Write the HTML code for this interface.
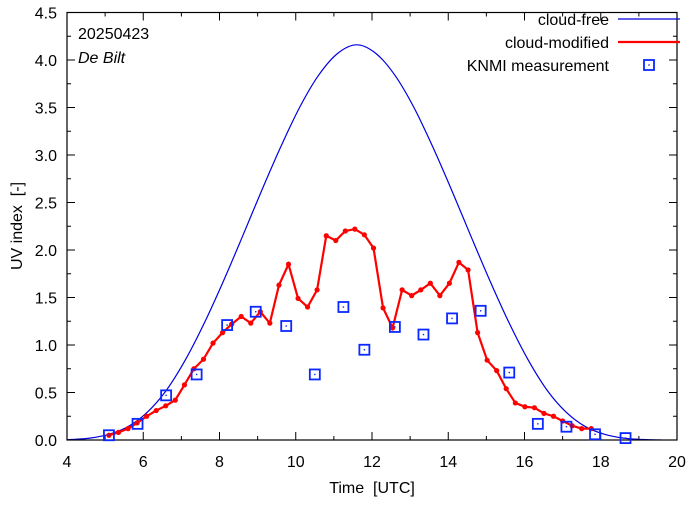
<!DOCTYPE html>
<html><head><meta charset="utf-8"><style>body{margin:0;background:#fff}svg text{font-family:"Liberation Sans",sans-serif;font-size:16px;fill:#000}.pre{white-space:pre}</style></head>
<body><svg id="c" width="694" height="501"></svg>
<script>
const redT=[5.10,5.35,5.60,5.84,6.09,6.34,6.59,6.84,7.08,7.33,7.58,7.83,8.08,8.32,8.57,8.82,9.07,9.32,9.56,9.81,10.06,10.31,10.56,10.80,11.05,11.30,11.55,11.80,12.04,12.29,12.54,12.79,13.04,13.28,13.53,13.78,14.03,14.28,14.52,14.77,15.02,15.27,15.52,15.76,16.01,16.26,16.51,16.76,17.00,17.25,17.50,17.75];
const redV=[0.05,0.08,0.12,0.18,0.25,0.31,0.36,0.42,0.58,0.75,0.85,1.02,1.13,1.22,1.30,1.23,1.35,1.23,1.63,1.85,1.49,1.40,1.58,2.15,2.10,2.20,2.22,2.16,2.02,1.39,1.18,1.58,1.52,1.58,1.65,1.52,1.65,1.87,1.79,1.13,0.84,0.73,0.54,0.39,0.35,0.34,0.28,0.25,0.20,0.15,0.12,0.12];
const measT=[5.1,5.85,6.6,7.4,8.2,8.95,9.75,10.5,11.25,11.8,12.6,13.35,14.1,14.85,15.6,16.35,17.1,17.85,18.65];
const measV=[0.05,0.17,0.47,0.69,1.21,1.35,1.20,0.69,1.40,0.95,1.19,1.11,1.28,1.36,0.71,0.17,0.14,0.06,0.02];
const clearT=[3.6,4.1,4.6,5.1,5.6,6.1,6.6,7.1,7.6,8.1,8.6,9.1,9.6,10.1,10.6,11.1,11.6,12.1,12.6,13.1,13.6,14.1,14.6,15.1,15.6,16.1,16.6,17.1,17.6,18.1,18.6,19.1,19.6];
const clearV=[0,0.005,0.02,0.06,0.14,0.29,0.52,0.84,1.23,1.67,2.14,2.62,3.08,3.50,3.84,4.07,4.16,4.07,3.84,3.50,3.08,2.62,2.14,1.67,1.23,0.84,0.52,0.29,0.14,0.06,0.02,0.005,0];
const xTicks=[4,6,8,10,12,14,16,18,20];
const yTicks=["0.0","0.5","1.0","1.5","2.0","2.5","3.0","3.5","4.0","4.5"];
const X0=67,X1=677,Y0=440,Y1=12.5;
const sx=t=>X0+(t-4)/16*(X1-X0), sy=v=>Y0-v/4.5*(Y0-Y1);
const svg=document.getElementById('c'),NS='http://www.w3.org/2000/svg';
function mk(tag,a,txt){const e=document.createElementNS(NS,tag);for(const k in a)e.setAttribute(k,a[k]);if(txt!==undefined)e.textContent=txt;svg.appendChild(e);return e;}
let e;
for(let t=4;t<=20;t+=1){const L=(t%2==0)?8:4;
e=mk('line',{x1:sx(t),x2:sx(t),y1:Y0,y2:Y0-L,stroke:'#000'});
e=mk('line',{x1:sx(t),x2:sx(t),y1:Y1,y2:Y1+L,stroke:'#000'});}
xTicks.forEach(t=>{e=mk('text',{x:sx(t),y:467,'text-anchor':'middle'},t);});
for(let i=0;i<=18;i++){const v=i*0.25,L=(i%2==0)?8:4;
e=mk('line',{x1:X0,x2:X0+L,y1:sy(v),y2:sy(v),stroke:'#000'});
e=mk('line',{x1:X1,x2:X1-L,y1:sy(v),y2:sy(v),stroke:'#000'});}
yTicks.forEach(s=>{e=mk('text',{x:57,y:sy(+s)+6,'text-anchor':'end'},s);});
e=mk('text',{x:372,y:493,'text-anchor':'middle','class':'pre'},'Time  [UTC]');
e=mk('text',{x:0,y:0,'text-anchor':'middle',transform:'translate(22,226) rotate(-90)','class':'pre'},'UV index  [-]');
e=mk('text',{x:78,y:39},'20250423');
e=mk('text',{x:78,y:63,'font-style':'italic'},'De Bilt');
e=mk('clipPath',{id:'clip'});const cr=document.createElementNS(NS,'rect');cr.setAttribute('x',X0);cr.setAttribute('y',Y1);cr.setAttribute('width',X1-X0);cr.setAttribute('height',Y0-Y1);e.appendChild(cr);
const P=clearT.map((t,i)=>[sx(t),sy(clearV[i])]);
let d='M'+P[0][0]+','+P[0][1];
for(let i=0;i<P.length-1;i++){const p0=P[Math.max(i-1,0)],p1=P[i],p2=P[i+1],p3=P[Math.min(i+2,P.length-1)];
d+=' C'+(p1[0]+(p2[0]-p0[0])/6)+','+(p1[1]+(p2[1]-p0[1])/6)+' '+(p2[0]-(p3[0]-p1[0])/6)+','+(p2[1]-(p3[1]-p1[1])/6)+' '+p2[0]+','+p2[1];}
e=mk('path',{d:d,fill:'none',stroke:'#0000e0','stroke-width':1.2,'clip-path':'url(#clip)'});
e=mk('rect',{x:X0,y:Y1,width:X1-X0,height:Y0-Y1,fill:'none',stroke:'#000','stroke-width':1.2});
e=mk('polyline',{points:redT.map((t,i)=>sx(t)+','+sy(redV[i])).join(' '),fill:'none',stroke:'#f00','stroke-width':2.2});
redT.forEach((t,i)=>{e=mk('circle',{cx:sx(t),cy:sy(redV[i]),r:2.6,fill:'#f00'});});
measT.forEach((t,i)=>{const x=sx(t),y=sy(measV[i]);
e=mk('rect',{x:x-5,y:y-5,width:10,height:10,fill:'none',stroke:'#0a28ff','stroke-width':1.8});
mk('rect',{x:x-0.7,y:y-0.7,width:1.4,height:1.4,fill:'#0a28ff'});});
e=mk('text',{x:609,y:25,'text-anchor':'end'},'cloud-free');
mk('line',{x1:618,x2:680,y1:19,y2:19,stroke:'#0000e0','stroke-width':1.2});
e=mk('text',{x:609,y:48,'text-anchor':'end'},'cloud-modified');
mk('line',{x1:618,x2:680,y1:42,y2:42,stroke:'#f00','stroke-width':2.2});
e=mk('text',{x:609,y:71,'text-anchor':'end'},'KNMI measurement');
mk('rect',{x:644,y:60,width:10,height:10,fill:'none',stroke:'#0a28ff','stroke-width':1.8});
mk('rect',{x:648.3,y:64.3,width:1.4,height:1.4,fill:'#0a28ff'});
</script></body></html>
